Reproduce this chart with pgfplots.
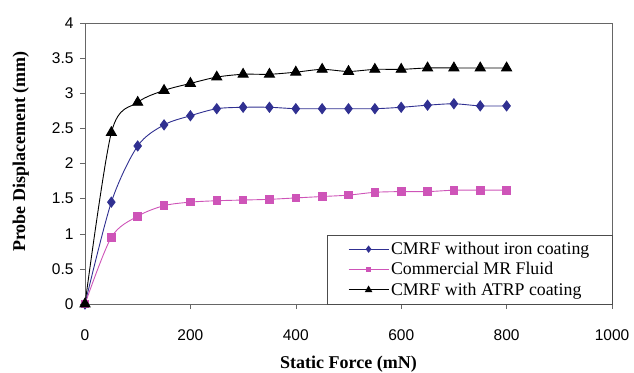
\documentclass[border=0pt]{standalone}
\usepackage{pgfplots}
\pgfplotsset{compat=1.18}
\usepackage{fontspec}
\setmainfont{Liberation Serif}
\newfontfamily\arialf{Liberation Sans}
\definecolor{cblue}{RGB}{48,48,145}
\definecolor{cpink}{RGB}{206,84,184}
\begin{document}
\begin{tikzpicture}
\begin{axis}[
  scale only axis,
  width=527pt, height=281pt,
  xmin=0, xmax=1000, ymin=0, ymax=4,
  xtick={0,200,...,1000}, ytick={0,0.5,...,4},
  tick align=outside, tick pos=left,
  major tick length=5pt,
  axis line style={gray!80!black},
  every tick/.style={gray!80!black},
  /pgf/number format/assume math mode=true,
  ticklabel style={font=\arialf\fontsize{15.5}{17}\selectfont},
  yticklabel style={/pgf/number format/fixed, xshift=-3pt},
  xticklabel style={/pgf/number format/1000 sep={}, yshift=-17pt},
  xlabel={\textbf{Static Force (mN)}},
  ylabel={\textbf{Probe Displacement (mm)}},
  label style={font=\fontsize{18}{20}\selectfont},
  xlabel style={yshift=-9pt},
  ylabel style={yshift=16pt, xshift=12pt},
  legend style={at={(rel axis cs:1,0)}, anchor=south east,
    font=\fontsize{17.8}{19}\selectfont, draw=gray!60!black,
    inner xsep=20.5pt, inner ysep=5pt,
    row sep=2.5pt, cells={anchor=west, inner xsep=2pt, inner ysep=2pt}},
  legend image post style={/tikz/every mark/.append style={scale=0.6}},
  legend image code/.code={
    \draw[#1] (0pt,0pt) -- (40pt,0pt);
    \path[#1,only marks] plot coordinates {(20pt,0pt)};},
]
\addplot[cblue, line width=0.9pt, smooth, tension=0.5, mark=diamond*, mark size=5pt, mark options={fill=cblue, solid}] coordinates {
(0,0) (50,1.45) (100,2.25) (150,2.55) (200,2.68) (250,2.78) (300,2.80) (350,2.80) (400,2.78) (450,2.78) (500,2.78) (550,2.78) (600,2.80) (650,2.83) (700,2.85) (750,2.82) (800,2.82)};
\addlegendentry{CMRF without iron coating}
\addplot[cpink, line width=0.9pt, smooth, tension=0.5, mark=square*, mark size=3.8pt, mark options={fill=cpink, solid}] coordinates {
(0,0) (50,0.95) (100,1.25) (150,1.40) (200,1.45) (250,1.47) (300,1.48) (350,1.49) (400,1.51) (450,1.53) (500,1.55) (550,1.59) (600,1.60) (650,1.60) (700,1.62) (750,1.62) (800,1.62)};
\addlegendentry{Commercial MR Fluid}
\addplot[black, line width=0.9pt, smooth, tension=0.5, mark=triangle*, mark size=5.8pt, mark options={fill=black, solid}] coordinates {
(0,0) (50,2.44) (100,2.87) (150,3.04) (200,3.14) (250,3.23) (300,3.27) (350,3.27) (400,3.30) (450,3.34) (500,3.31) (550,3.34) (600,3.34) (650,3.36) (700,3.36) (750,3.36) (800,3.36)};
\addlegendentry{CMRF with ATRP coating}
\end{axis}
\pgfresetboundingbox
\path (current axis.south west) ++(-85pt,-68pt) coordinate (bbA);
\path (current axis.north east) ++(22pt,23pt) coordinate (bbB);
\path (bbA) rectangle (bbB);
\end{tikzpicture}
\end{document}
